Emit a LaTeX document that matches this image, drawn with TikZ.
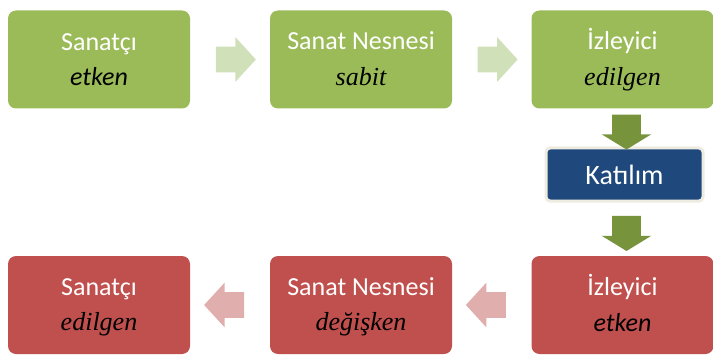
\documentclass[tikz,border=0pt]{standalone}
\usepackage{fontspec}
\setmainfont{Carlito}
\newfontfamily\garafont{Liberation Serif}
\usepackage{xcolor}
\usetikzlibrary{positioning,shapes.arrows,calc}

\definecolor{boxgreen}{HTML}{9BBB59}
\definecolor{boxred}{HTML}{C0504D}
\definecolor{boxblue}{HTML}{1F497D}
\definecolor{rimbeige}{HTML}{EEECE1}
\definecolor{arrlightgreen}{HTML}{D0E0B9}
\definecolor{arrpink}{HTML}{E0AEAD}
\definecolor{arrdarkgreen}{HTML}{77933C}

\tikzset{
  stagebox/.style={rounded corners=6pt, minimum width=136.5pt, minimum height=73.5pt,
    inner sep=0pt, align=center, text=white, font=\fontsize{19.5}{26.5}\selectfont},
  greenbox/.style={stagebox, fill=boxgreen},
  redbox/.style={stagebox, fill=boxred},
  sidearrow/.style={single arrow, single arrow tip angle=95, single arrow head extend=7.1pt,
    inner xsep=0pt, inner ysep=9.4pt, minimum height=30pt},
  downarrow/.style={single arrow, single arrow tip angle=117, single arrow head extend=7.9pt,
    inner xsep=0pt, inner ysep=10.5pt, minimum height=26.25pt, rotate=-90, fill=arrdarkgreen}
}
\newcommand{\toptext}[1]{\vphantom{İ}#1}
\newcommand{\sansit}[1]{{\color{black}\itshape #1\vphantom{g}}}
\newcommand{\serifit}[1]{{\color{black}\garafont\itshape #1\vphantom{g}}}

\begin{document}
\begin{tikzpicture}[x=0.75pt,y=-0.75pt]
\useasboundingbox (0,0) rectangle (713,356);

% top row
\node[greenbox] (san1) at (99,59.5) {\toptext{Sanatçı}\\\sansit{etken}};
\node[greenbox] (nes1) at (361,59.5) {\toptext{Sanat Nesnesi}\\\serifit{sabit}};
\node[greenbox] (izl1) at (622.5,59.5) {\toptext{İzleyici}\\\serifit{edilgen}};

% middle
\node[fill=boxblue, draw=rimbeige, line width=2.25pt, rounded corners=3pt,
  minimum width=117.75pt, minimum height=39.75pt, text=white,
  font=\fontsize{21}{24}\selectfont] (kat) at (624.5,174.5) {Katılım};

% bottom row
\node[redbox] (san2) at (99,305) {\toptext{Sanatçı}\\\serifit{edilgen}};
\node[redbox] (nes2) at (361,305) {\toptext{Sanat Nesnesi}\\\serifit{değişken}};
\node[redbox] (izl2) at (622.5,305) {\toptext{İzleyici}\\\sansit{etken}};

% arrows
\node[sidearrow, fill=arrlightgreen] (a1) at ($(san1.east)!0.5!(nes1.west)$) {};
\node[sidearrow, fill=arrlightgreen] (a2) at ($(nes1.east)!0.5!(izl1.west)$) {};
\node[downarrow] (a3) at ($(izl1.south)!0.5!(kat.north)+(3,0)$) {};
\node[downarrow] (a4) at ($(kat.south)!0.5!(izl2.north)+(3,0)$) {};
\node[sidearrow, fill=arrpink, rotate=180] (a5) at ($(izl2.west)!0.5!(nes2.east)$) {};
\node[sidearrow, fill=arrpink, rotate=180] (a6) at ($(nes2.west)!0.5!(san2.east)$) {};
\end{tikzpicture}
\end{document}
